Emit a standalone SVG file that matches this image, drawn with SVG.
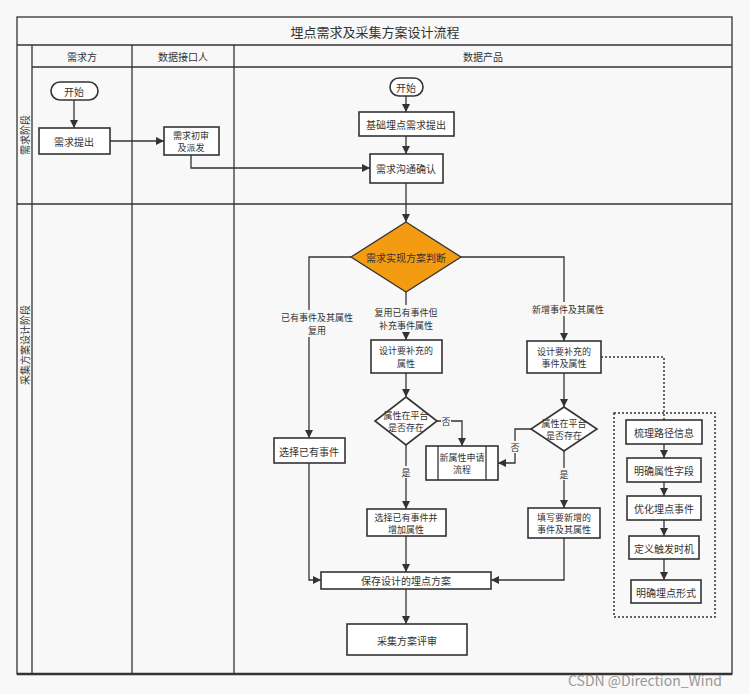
<svg xmlns="http://www.w3.org/2000/svg" width="750" height="694" viewBox="0 0 750 694">
<defs>
<marker id="ah" viewBox="0 0 10 10" refX="10" refY="5" markerWidth="8" markerHeight="8" markerUnits="userSpaceOnUse" orient="auto"><path d="M0,0L10,5L0,10z" fill="#333"/></marker>
<style>
text{font-family:"Noto Sans CJK SC","Liberation Sans",sans-serif;font-size:10px;fill:#333;text-anchor:middle;dominant-baseline:central}
.s{font-size:9px}
.b{fill:#fff;stroke:#333;stroke-width:1.6}
.l{fill:none;stroke:#333;stroke-width:1.3}
.c{fill:none;stroke:#333;stroke-width:1.3;marker-end:url(#ah)}
.d{fill:none;stroke:#333;stroke-width:1.5;stroke-dasharray:2,2}
.w{fill:#f8f8f8;stroke:none}
</style>
</defs>
<rect width="750" height="694" fill="#f8f8f8"/>
<g id="lanes">
<rect x="17" y="17" width="715" height="657" class="l" fill="none"/>
<line x1="17" y1="45" x2="732" y2="45" class="l"/>
<line x1="32" y1="67" x2="732" y2="67" class="l"/>
<line x1="32" y1="45" x2="32" y2="674" class="l"/>
<line x1="132" y1="45" x2="132" y2="674" class="l"/>
<line x1="234" y1="45" x2="234" y2="674" class="l"/>
<line x1="17" y1="204" x2="732" y2="204" class="l"/>
<line x1="17" y1="674" x2="732" y2="674" stroke="#333" stroke-width="2.5"/>
<text x="375" y="31" style="font-size:13px">埋点需求及采集方案设计流程</text>
<text x="82" y="56">需求方</text>
<text x="183" y="56">数据接口人</text>
<text x="483" y="56">数据产品</text>
<text transform="translate(24,135) rotate(-90)">需求阶段</text>
<text transform="translate(24,345) rotate(-90)">采集方案设计阶段</text>
</g>
<g id="connectors">
<line x1="74" y1="100" x2="74" y2="128" class="c"/>
<line x1="110" y1="141" x2="164" y2="141" class="c"/>
<polyline points="191,155 191,168 370,168" class="c"/>
<line x1="406" y1="96" x2="406" y2="112" class="c"/>
<line x1="406" y1="136" x2="406" y2="154" class="c"/>
<line x1="406" y1="183" x2="406" y2="222" class="c"/>
<polyline points="351,257 309,257 309,438" class="c"/>
<line x1="406" y1="292" x2="406" y2="340" class="c"/>
<polyline points="461,257 564,257 564,341" class="c"/>
<line x1="406" y1="373" x2="406" y2="397" class="c"/>
<polyline points="437,421 462,421 462,446" class="c"/>
<line x1="406" y1="445" x2="406" y2="509" class="c"/>
<line x1="564" y1="373" x2="564" y2="407" class="c"/>
<polyline points="531,429 515,429 515,463 498,463" class="c"/>
<line x1="564" y1="451" x2="564" y2="508" class="c"/>
<polyline points="564,538 564,580 491,580" class="c"/>
<polyline points="309,463 309,580 321,580" class="c"/>
<line x1="406" y1="536" x2="406" y2="572" class="c"/>
<line x1="406" y1="589" x2="406" y2="624" class="c"/>
<polyline points="601,357 664,357 664,420" class="d"/>
<line x1="664" y1="444" x2="664" y2="458" class="c"/>
<line x1="664" y1="482" x2="664" y2="496" class="c"/>
<line x1="664" y1="520" x2="664" y2="536" class="c"/>
<line x1="664" y1="559" x2="664" y2="580" class="c"/>
<rect x="292" y="310" width="50" height="27" class="w"/>
<text x="317" y="317" class="s">已有事件及其属性</text>
<text x="317" y="330" class="s">复用</text>
<rect x="372" y="305" width="68" height="27" class="w"/>
<text x="406" y="312" class="s">复用已有事件但</text>
<text x="406" y="325" class="s">补充事件属性</text>
<rect x="530" y="302" width="76" height="14" class="w"/>
<text x="568" y="309" class="s">新增事件及其属性</text>
<rect x="441" y="415" width="10" height="12" class="w"/>
<text x="446" y="421" class="s">否</text>
<rect x="401" y="466" width="10" height="12" class="w"/>
<text x="406" y="472" class="s">是</text>
<rect x="510" y="441" width="10" height="12" class="w"/>
<text x="515" y="447" class="s">否</text>
<rect x="559" y="468" width="10" height="12" class="w"/>
<text x="564" y="474" class="s">是</text>
</g>
<g id="n_start1"><rect x="51" y="82" width="47" height="18" rx="9" class="b"/><text x="74" y="91">开始</text></g>
<g id="n_req"><rect x="39" y="128" width="71" height="26" class="b"/><text x="74" y="141">需求提出</text></g>
<g id="n_review"><rect x="164" y="127" width="55" height="28" class="b"/><text x="191" y="135" class="s">需求初审</text><text x="191" y="147" class="s">及派发</text></g>
<g id="n_start2"><rect x="390" y="78" width="33" height="18" rx="9" class="b"/><text x="406" y="87">开始</text></g>
<g id="n_base"><rect x="359" y="112" width="95" height="24" class="b"/><text x="406" y="124">基础埋点需求提出</text></g>
<g id="n_confirm"><rect x="370" y="154" width="73" height="29" class="b"/><text x="406" y="168">需求沟通确认</text></g>
<g id="n_judge"><polygon points="406,222 461,257 406,292 351,257" fill="#f39c12" stroke="#333" stroke-width="1.3"/><text x="406" y="257">需求实现方案判断</text></g>
<g id="n_select"><rect x="274" y="438" width="71" height="25" class="b"/><text x="309" y="451">选择已有事件</text></g>
<g id="n_design1"><rect x="371" y="340" width="71" height="33" class="b"/><text x="406" y="350" class="s">设计要补充的</text><text x="406" y="363" class="s">属性</text></g>
<g id="n_exist1"><polygon points="406,397 437,421 406,445 375,421" class="b"/><text x="406" y="415" class="s">属性在平台</text><text x="406" y="427" class="s">是否存在</text></g>
<g id="n_newattr"><rect x="426" y="446" width="72" height="34" class="b"/><line x1="438" y1="446" x2="438" y2="480" class="l"/><line x1="486" y1="446" x2="486" y2="480" class="l"/><text x="462" y="457" class="s">新属性申请</text><text x="462" y="469" class="s">流程</text></g>
<g id="n_selectadd"><rect x="367" y="509" width="79" height="27" class="b"/><text x="406" y="517" class="s">选择已有事件并</text><text x="406" y="529" class="s">增加属性</text></g>
<g id="n_design2"><rect x="527" y="341" width="74" height="32" class="b"/><text x="564" y="351" class="s">设计要补充的</text><text x="564" y="363" class="s">事件及属性</text></g>
<g id="n_exist2"><polygon points="564,407 597,429 564,451 531,429" class="b"/><text x="564" y="423" class="s">属性在平台</text><text x="564" y="435" class="s">是否存在</text></g>
<g id="n_fill"><rect x="528" y="508" width="72" height="30" class="b"/><text x="564" y="517" class="s">填写要新增的</text><text x="564" y="529" class="s">事件及其属性</text></g>
<g id="n_save"><rect x="321" y="572" width="170" height="17" class="b"/><text x="406" y="580">保存设计的埋点方案</text></g>
<g id="n_eval"><rect x="347" y="624" width="120" height="31" class="b"/><text x="407" y="640">采集方案评审</text></g>
<g id="n_group"><rect x="614" y="413" width="101" height="204" class="d"/></g>
<g id="n_s1"><rect x="626" y="420" width="76" height="24" class="b"/><text x="664" y="432">梳理路径信息</text></g>
<g id="n_s2"><rect x="627" y="458" width="74" height="24" class="b"/><text x="664" y="470">明确属性字段</text></g>
<g id="n_s3"><rect x="627" y="496" width="74" height="24" class="b"/><text x="664" y="508">优化埋点事件</text></g>
<g id="n_s4"><rect x="629" y="536" width="70" height="23" class="b"/><text x="664" y="548">定义触发时机</text></g>
<g id="n_s5"><rect x="631" y="580" width="70" height="23" class="b"/><text x="666" y="592">明确埋点形式</text></g>
<text x="645" y="680" style="font-size:14px;fill:#999">CSDN @Direction_Wind</text>
</svg>
